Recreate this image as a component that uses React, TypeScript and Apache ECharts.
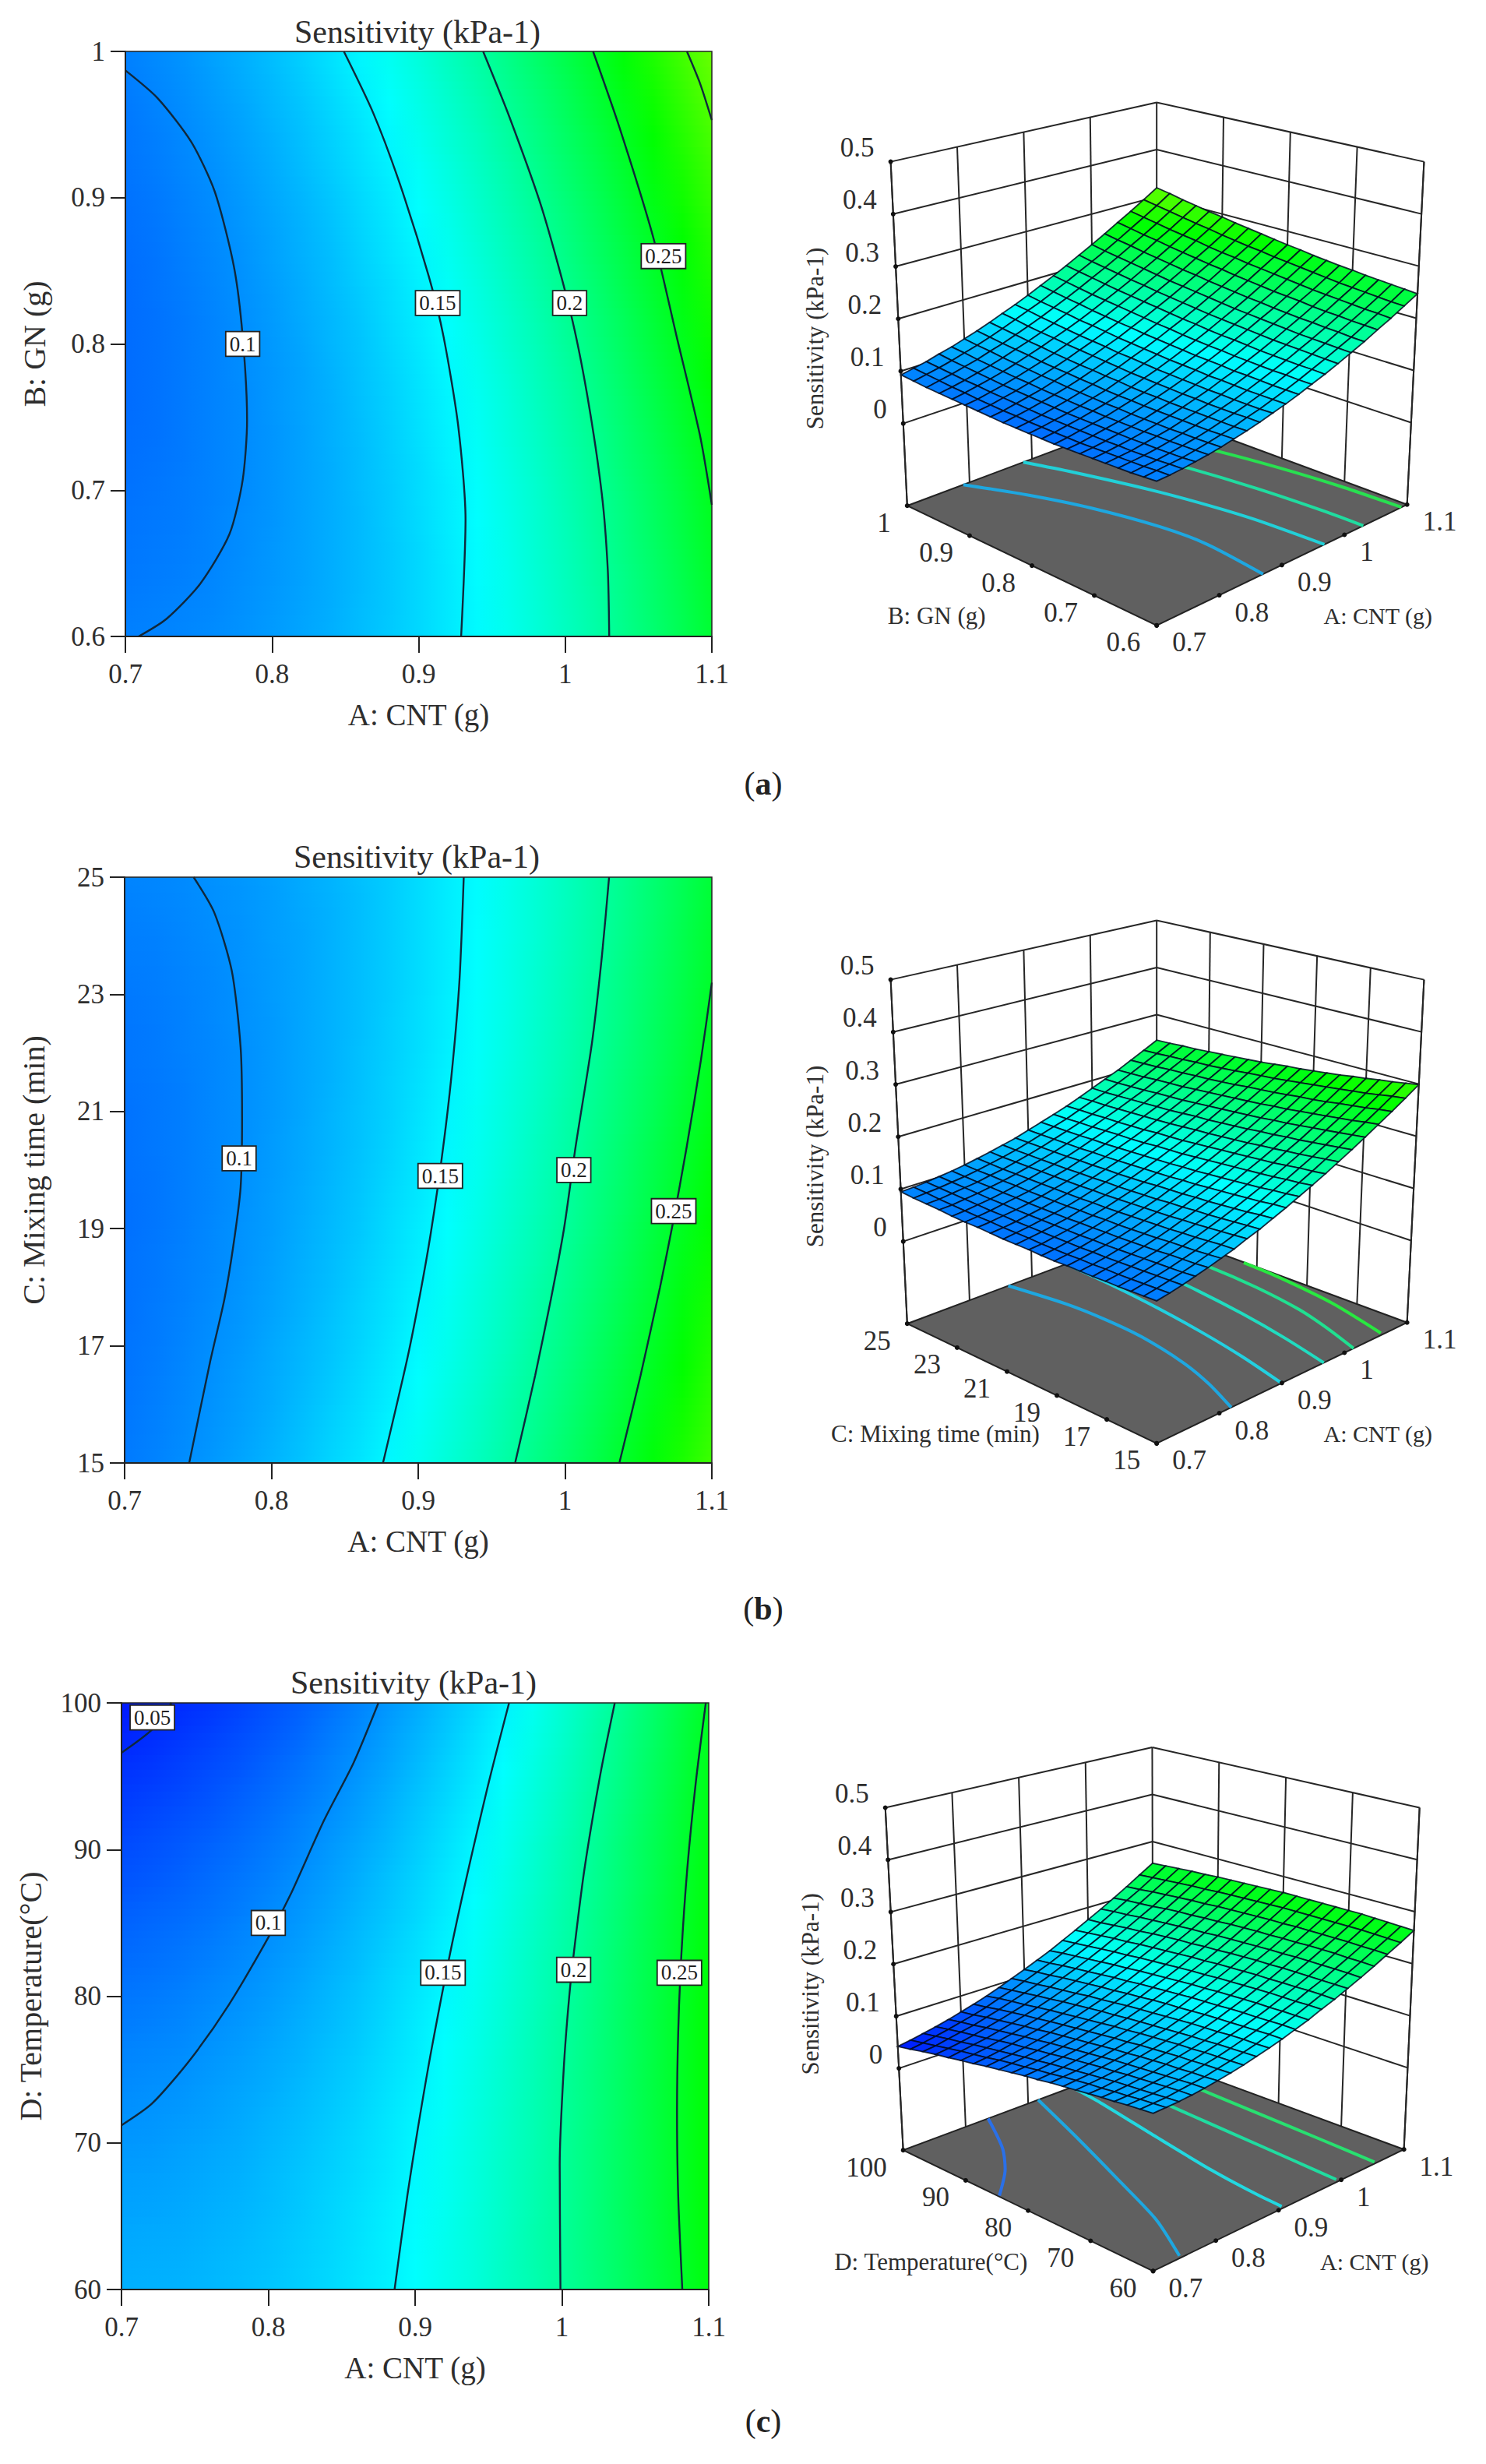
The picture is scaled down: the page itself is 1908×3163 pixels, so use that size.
import React, { useEffect, useRef } from "react";
import * as echarts from "echarts";

const FONT = "Liberation Serif";
const INK = "#2e2e2e";
const SENS_TITLE = "Sensitivity (kPa-1)";

// ---- axes ----
const ticksCNT = [0.7, 0.8, 0.9, 1, 1.1];
const ticksGN = [0.6, 0.7, 0.8, 0.9, 1];
const ticksTime = [15, 17, 19, 21, 23, 25];
const ticksTemp = [60, 70, 80, 90, 100];
const ticksSens = [0, 0.1, 0.2, 0.3, 0.4, 0.5];

// ---- surfaces, in 0.001 kPa-1: rows go up the second factor, columns along A: CNT ----
const surfaceGN = [
[93,94,96,99,102,106,111,116,122,129,136,144,153,162,172,183,194,207,219,233,247],
[91,93,95,97,101,105,110,115,122,128,136,144,153,163,173,184,195,208,221,234,249],
[89,91,93,96,100,104,109,115,121,128,136,144,154,163,174,185,197,209,222,236,251],
[88,90,92,95,99,104,109,115,121,128,136,145,154,164,175,186,198,211,224,238,253],
[87,89,91,95,99,103,109,115,121,129,137,146,155,165,176,187,200,212,226,240,255],
[86,88,91,94,98,103,109,115,122,129,138,146,156,166,177,189,201,214,228,242,258],
[85,87,90,94,98,103,109,115,122,130,138,148,157,168,179,191,203,217,230,245,260],
[84,86,90,94,98,103,109,116,123,131,140,149,159,170,181,193,205,219,233,248,263],
[83,86,90,94,98,104,110,116,124,132,141,150,160,171,183,195,208,221,236,251,266],
[83,86,90,94,99,104,110,117,125,133,142,152,162,173,185,197,210,224,239,254,270],
[83,86,90,94,99,105,111,119,126,135,144,154,164,176,187,200,213,227,242,257,273],
[83,86,90,95,100,106,113,120,128,137,146,156,167,178,190,203,216,230,245,261,277],
[83,87,91,96,101,107,114,122,130,138,148,158,169,181,193,206,219,234,249,264,281],
[84,87,92,97,102,109,116,123,132,141,150,161,172,184,196,209,223,237,252,268,285],
[85,88,93,98,104,110,117,125,134,143,153,163,175,187,199,212,226,241,256,272,289],
[86,89,94,99,105,112,119,127,136,145,156,166,178,190,203,216,230,245,261,277,294],
[87,91,96,101,107,114,122,130,139,148,158,169,181,193,206,220,234,249,265,281,298],
[88,92,97,103,109,116,124,132,141,151,162,173,184,197,210,224,238,254,269,286,303],
[89,94,99,105,111,119,126,135,144,154,165,176,188,201,214,228,243,258,274,291,308],
[91,96,101,107,114,121,129,138,148,158,168,180,192,205,218,232,247,263,279,296,314],
[93,98,103,110,116,124,132,141,151,161,172,184,196,209,223,237,252,268,284,301,319],
];
const surfaceTime = [
[90,94,99,105,111,118,125,134,142,152,162,173,184,196,209,222,236,251,266,282,299],
[89,93,98,103,109,116,124,132,140,150,160,170,181,193,206,219,233,248,263,279,295],
[88,92,97,102,108,114,122,130,138,147,157,168,179,191,203,216,230,244,259,275,291],
[87,91,96,101,107,113,120,128,136,145,155,165,176,188,200,213,227,241,256,271,288],
[87,90,95,100,105,112,119,126,134,143,153,163,174,185,198,210,224,238,253,268,284],
[86,90,94,99,104,110,117,125,133,141,151,161,172,183,195,208,221,235,249,265,281],
[86,89,93,98,103,109,116,123,131,140,149,159,170,181,193,205,218,232,246,262,277],
[86,89,93,97,102,108,115,122,130,138,147,157,168,179,190,203,216,229,244,259,274],
[85,88,92,97,102,107,114,121,128,137,146,155,166,177,188,200,213,227,241,256,271],
[85,88,92,96,101,107,113,120,127,136,144,154,164,175,186,198,211,224,238,253,268],
[86,88,92,96,101,106,112,119,126,134,143,152,162,173,184,196,209,222,236,250,266],
[86,89,92,96,100,106,112,118,125,133,142,151,161,171,183,194,207,220,234,248,263],
[86,89,92,96,100,105,111,118,125,132,141,150,160,170,181,193,205,218,231,246,260],
[87,89,92,96,100,105,111,117,124,132,140,149,158,169,179,191,203,216,229,243,258],
[88,90,93,96,100,105,111,117,124,131,139,148,157,167,178,189,201,214,227,241,256],
[88,90,93,97,101,105,111,117,123,131,139,147,157,166,177,188,200,212,226,239,254],
[89,91,94,97,101,106,111,117,123,130,138,147,156,165,176,187,199,211,224,238,252],
[91,92,95,98,102,106,111,117,123,130,138,146,155,165,175,186,197,210,223,236,250],
[92,93,96,99,102,107,111,117,123,130,138,146,155,164,174,185,196,208,221,235,249],
[93,95,97,100,103,107,112,117,123,130,138,146,154,164,174,184,195,207,220,233,247],
[95,96,98,101,104,108,113,118,124,130,138,146,154,163,173,184,195,206,219,232,246],
];
const surfaceTemp = [
[116,117,118,120,123,127,131,136,142,148,155,163,171,181,190,201,212,224,237,250,264],
[114,115,116,119,122,125,130,135,141,147,155,163,171,181,191,201,213,225,238,251,265],
[112,113,114,117,120,124,129,134,140,147,154,162,171,180,191,201,213,225,238,252,266],
[109,110,112,115,118,122,127,133,139,146,153,161,170,180,190,201,213,226,239,253,267],
[107,108,110,113,116,121,126,131,137,144,152,161,170,180,190,201,213,226,239,253,268],
[104,105,108,111,114,119,124,130,136,143,151,160,169,179,189,201,213,226,239,253,268],
[101,103,105,108,112,117,122,128,134,142,150,158,168,178,189,200,212,225,239,253,268],
[98,100,102,106,110,114,120,126,132,140,148,157,167,177,188,200,212,225,239,253,268],
[95,97,99,103,107,112,117,124,130,138,146,156,165,176,187,199,211,224,238,253,268],
[91,93,96,100,104,109,115,121,128,136,145,154,164,174,186,198,210,224,238,253,268],
[88,90,93,97,101,106,112,119,126,134,143,152,162,173,184,196,209,223,237,252,268],
[84,86,89,93,98,103,109,116,123,132,140,150,160,171,183,195,208,222,236,251,267],
[80,83,86,90,95,100,106,113,121,129,138,148,158,169,181,193,206,220,235,250,266],
[76,79,82,86,91,97,103,110,118,126,135,145,156,167,179,192,205,219,234,249,265],
[71,74,78,83,88,93,100,107,115,124,133,143,153,165,177,190,203,217,232,248,264],
[67,70,74,79,84,90,96,104,112,120,130,140,151,162,175,188,201,216,231,246,263],
[62,66,70,74,80,86,93,100,108,117,127,137,148,160,172,185,199,214,229,245,261],
[58,61,65,70,76,82,89,96,105,114,124,134,145,157,170,183,197,211,227,243,260],
[53,56,61,66,71,78,85,93,101,110,120,131,142,154,167,180,194,209,225,241,258],
[47,51,56,61,67,73,80,89,97,107,117,127,139,151,164,177,192,207,222,239,256],
[42,46,51,56,62,69,76,84,93,103,113,124,135,148,161,175,189,204,220,237,254],
];

// ---- contour lines of the flat plots: [A: CNT, second factor] ----
const levelsGN = [
[[0.7,0.987],[0.722,0.968],[0.745,0.938],[0.761,0.904],[0.774,0.853],[0.78,0.805],[0.783,0.748],[0.78,0.707],[0.771,0.67],[0.751,0.636],[0.728,0.612],[0.709,0.6]],
[[0.849,1],[0.869,0.958],[0.887,0.91],[0.907,0.846],[0.917,0.805],[0.927,0.744],[0.932,0.68],[0.929,0.6]],
[[0.944,1],[0.962,0.955],[0.984,0.893],[1.0035,0.822],[1.015,0.765],[1.025,0.697],[1.029,0.646],[1.03,0.6]],
[[1.019,1],[1.037,0.948],[1.06,0.873],[1.076,0.805],[1.092,0.737],[1.1,0.69]],
[[1.083,1],[1.092,0.978],[1.1,0.953]],
];
const levelsTime = [
[[0.747,25],[0.761,24.4],[0.773,23.4],[0.779,22.1],[0.78,20.9],[0.779,19.7],[0.774,18.7],[0.768,17.8],[0.758,16.7],[0.744,15]],
[[0.931,25],[0.928,23.2],[0.9226,21.6],[0.916,20.2],[0.9084,18.9],[0.9014,17.9],[0.8927,16.8],[0.876,15]],
[[1.03,25],[1.0253,23.7],[1.0185,22.2],[1.0072,20.4],[0.9993,19],[0.9904,17.8],[0.9797,16.5],[0.966,15]],
[[1.1,23.2],[1.0927,21.9],[1.0829,20.4],[1.0735,19.1],[1.0647,18],[1.0515,16.5],[1.037,15]],
];
const levelsTemp = [
[[0.7,96.6],[0.721,98.2],[0.734,100]],
[[0.7,71.2],[0.721,72.7],[0.747,75.7],[0.773,79.4],[0.8,84],[0.815,86.9],[0.838,92],[0.858,95.9],[0.875,100]],
[[0.964,100],[0.949,94.1],[0.9269,84.4],[0.9114,76.5],[0.9019,71],[0.8947,66.4],[0.886,60]],
[[1.036,100],[1.0263,95.2],[1.0154,88.7],[1.009,83.7],[1.005,80],[1.0012,75],[0.9985,68.5],[0.999,60]],
[[1.098,100],[1.0911,94.5],[1.0854,88.7],[1.0814,82.9],[1.0792,77.5],[1.0784,72.1],[1.0792,66.4],[1.082,60]],
];
const tagsGN = [["0.1",0.78,0.8],["0.15",0.913,0.828],["0.2",1.003,0.828],["0.25",1.067,0.86]];
const tagsTime = [["0.1",0.778,20.2],["0.15",0.915,19.9],["0.2",1.006,20],["0.25",1.074,19.3]];
const tagsTemp = [["0.05",0.721,99],["0.1",0.8,85],["0.15",0.919,81.6],["0.2",1.008,81.8],["0.25",1.08,81.6]];

// ---- contour lines on the floors of the 3D plots ----
const floorGN = [
[[0.79,1],[0.827,0.93],[0.854,0.86],[0.875,0.77],[0.88,0.7],[0.87,0.6]],
[[0.886,1],[0.908,0.943],[0.937,0.847],[0.953,0.77],[0.962,0.705],[0.968,0.6]],
[[0.985,0.98],[1.009,0.862],[1.022,0.762],[1.029,0.658],[1.03,0.6]],
[[1.04,0.98],[1.066,0.868],[1.079,0.784],[1.088,0.689],[1.091,0.6]],
];
const floorTime = [
[[0.862,25],[0.8755,23],[0.878,21.5],[0.875,20],[0.8609,18],[0.843,16.5],[0.819,15]],
[[0.9548,25],[0.95,23],[0.9421,21],[0.931,19],[0.917,17],[0.8995,15]],
[[1.018,25],[1.0142,23],[1.0072,21],[0.997,19],[0.9836,17],[0.967,15]],
[[1.0625,24],[1.0642,22],[1.059,20],[1.0476,18],[1.0326,16.5],[1.0145,15]],
[[1.099,21.5],[1.096,20.07],[1.084,17.61],[1.062,15.1]],
];
const floorTemp = [
[[0.836,100],[0.791,93.2],[0.751,88.8],[0.702,84.8]],
[[0.916,100],[0.875,89.8],[0.827,77.9],[0.789,68.4],[0.746,60.4]],
[[0.97,100],[0.962,94.6],[0.94,83.5],[0.921,72.8],[0.912,65],[0.909,60.4]],
[[1.02,100],[1.011,87.2],[1.006,78],[1.001,68.1],[0.997,60.5]],
[[1.075,100],[1.068,87.8],[1.065,80.6],[1.06,69],[1.056,60.3]],
];
const floorColorsGN = ["#1ea7e0", "#22d0d8", "#20dca0", "#28e050"];
const floorColorsTime = ["#1ea7e0", "#22d0e0", "#20dcc0", "#20e090", "#28e840"];
const floorColorsTemp = ["#2a70e8", "#1ea7e0", "#22d8e0", "#20dca0", "#28e070"];

// ---- colour ramp (value in 0.001 kPa-1) ----
const rampAt = [30, 155, 270, 390];
const rampRGB = [[0, 0, 255], [0, 255, 255], [0, 255, 0], [255, 255, 0]];
function ramp(v: number) {
  let k = 0;
  while (k < rampAt.length - 2 && v > rampAt[k + 1]) k++;
  const t = Math.max(0, Math.min(1, (v - rampAt[k]) / (rampAt[k + 1] - rampAt[k])));
  const c = rampRGB[k].map((a, n) => Math.round(a + (rampRGB[k + 1][n] - a) * t));
  return `rgb(${c[0]},${c[1]},${c[2]})`;
}

const fmt = (v: number) => String(+Number(v).toFixed(2));

// ---- flat panels ----
const flats = [
  { box: [161, 66, 753, 751], yName: "B: GN (g)", yTicks: ticksGN, table: surfaceGN, lines: levelsGN, tags: tagsGN, titleY: 41, titleX: 536 },
  { box: [160, 1126, 754, 752], yName: "C: Mixing time (min)", yTicks: ticksTime, table: surfaceTime, lines: levelsTime, tags: tagsTime, titleY: 1100, titleX: 535 },
  { box: [156, 2186, 754, 753], yName: "D: Temperature(°C)", yTicks: ticksTemp, table: surfaceTemp, lines: levelsTemp, tags: tagsTemp, titleY: 2160, titleX: 531 },
];

// ---- 3D panels: outline of the box as seen on the page ----
const SX = 1.742, SY = 2.063;
const boxes = [
  { ox: 980, oy: 100, F: [880,1450], R: [1440,1130], L: [322,1133], B: [880,885], TF: [880,446], TR: [1478,222], TL: [285,222], TB: [880,65],
    bTicks: ticksGN, bName: "B: GN (g)", bNameAt: [388,1425], aNameAt: [1375,1425], sensAt: [115,690], table: surfaceGN, floor: floorGN, colors: floorColorsGN },
  { ox: 980, oy: 1150, F: [880,1450], R: [1440,1130], L: [322,1133], B: [880,885], TF: [880,446], TR: [1478,222], TL: [285,222], TB: [880,65],
    bTicks: ticksTime, bName: "C: Mixing time (min)", bNameAt: [385,1425], aNameAt: [1375,1425], sensAt: [115,690], table: surfaceTime, floor: floorTime, colors: floorColorsTime },
  { ox: 980, oy: 2210, F: [872,1455], R: [1433,1133], L: [313,1135], B: [872,888], TF: [872,450], TR: [1468,228], TL: [273,228], TB: [870,68],
    bTicks: ticksTemp, bName: "D: Temperature(°C)", bNameAt: [375,1430], aNameAt: [1367,1430], sensAt: [105,695], table: surfaceTemp, floor: floorTemp, colors: floorColorsTemp },
];
const Z_FLOOR = -0.157, Z_TOP = 0.5;

function projector(b: any) {
  const bil = (f: number[], r: number[], l: number[], k: number[], u: number, v: number, n: number) =>
    f[n] * (1 - u) * (1 - v) + r[n] * u * (1 - v) + l[n] * (1 - u) * v + k[n] * u * v;
  return (u: number, v: number, z: number) => {
    const w = (z - Z_FLOOR) / (Z_TOP - Z_FLOOR);
    const x = bil(b.F, b.R, b.L, b.B, u, v, 0) * (1 - w) + bil(b.TF, b.TR, b.TL, b.TB, u, v, 0) * w;
    const y = bil(b.F, b.R, b.L, b.B, u, v, 1) * (1 - w) + bil(b.TF, b.TR, b.TL, b.TB, u, v, 1) * w;
    return [b.ox + x / SX, b.oy + y / SY];
  };
}

function text(str: string, x: number, y: number, size: number, align = "center", rotation = 0) {
  return {
    type: "text", x, y, rotation, silent: true, z: 50,
    style: { text: str, fill: INK, font: `${size}px "${FONT}"`, textAlign: align, textVerticalAlign: "middle", align, verticalAlign: "middle" },
  };
}
function panelTag(letter: string, x: number, y: number) {
  return {
    type: "text", x, y, silent: true, z: 50,
    style: {
      text: `{n|(}{b|${letter}}{n|)}`, textAlign: "center", textVerticalAlign: "middle", align: "center", verticalAlign: "middle",
      rich: {
        n: { fontFamily: FONT, fontSize: 42, fill: "#222", color: "#222" },
        b: { fontFamily: FONT, fontSize: 42, fontWeight: "bold", fill: "#222", color: "#222" },
      },
    },
  };
}

function buildOption() {
  const grid: any[] = [], xAxis: any[] = [], yAxis: any[] = [], series: any[] = [], graphic: any[] = [];

  flats.forEach((p, k) => {
    grid.push({ left: p.box[0], top: p.box[1], width: p.box[2], height: p.box[3], show: true, borderColor: "#222", borderWidth: 1.5, backgroundColor: "transparent", z: 8 });
    const axisBase = {
      type: "value", gridIndex: k, splitLine: { show: false }, z: 9,
      axisLine: { show: true, onZero: false, lineStyle: { color: "#222", width: 2 } },
      nameLocation: "middle",
      nameTextStyle: { fontFamily: FONT, fontSize: 40, color: INK },
    };
    xAxis.push({
      ...axisBase, min: 0.7, max: 1.1, name: "A: CNT (g)", nameGap: 81,
      nameTextStyle: { fontFamily: FONT, fontSize: 39, color: INK },
      axisTick: { show: true, length: 21, customValues: ticksCNT, lineStyle: { color: "#222", width: 2 } },
      axisLabel: { customValues: ticksCNT, formatter: fmt, margin: 31, fontFamily: FONT, fontSize: 35, color: INK, hideOverlap: false, showMinLabel: true, showMaxLabel: true },
    });
    yAxis.push({
      ...axisBase, min: p.yTicks[0], max: p.yTicks[p.yTicks.length - 1], name: p.yName, nameGap: 97,
      axisTick: { show: true, length: 19, customValues: p.yTicks, lineStyle: { color: "#222", width: 2 } },
      axisLabel: { customValues: p.yTicks, formatter: fmt, margin: 26, padding: [0, 0, 10, 0], fontFamily: FONT, fontSize: 35, color: INK, showMinLabel: true, showMaxLabel: true },
    });
    graphic.push(text(SENS_TITLE, p.titleX, p.titleY, 42));

    const rows = p.table;
    const yMin = p.yTicks[0], yMax = p.yTicks[p.yTicks.length - 1];
    const SUB = 4;
    const strips: number[][] = [];
    for (let j = 0; j < rows.length - 1; j++) for (let s = 0; s < SUB; s++) {
      const y0 = yMin + ((j + s / SUB) / (rows.length - 1)) * (yMax - yMin);
      const y1 = yMin + ((j + (s + 1) / SUB) / (rows.length - 1)) * (yMax - yMin);
      strips.push([0.7, y0, y1, j, (s + 0.5) / SUB]);
    }
    series.push({
      type: "custom", xAxisIndex: k, yAxisIndex: k, z: 1, silent: true, clip: true,
      data: strips, encode: { x: 0, y: 1 },
      renderItem: (_: any, api: any) => {
        const lo = api.coord([0.7, api.value(1)]);
        const hi = api.coord([1.1, api.value(2)]);
        const j = api.value(3), t = api.value(4);
        const n = rows[j].length;
        const stops = rows[j].map((a: number, i: number) => ({ offset: i / (n - 1), color: ramp(a + (rows[j + 1][i] - a) * t) }));
        return {
          type: "rect",
          shape: { x: lo[0], y: hi[1], width: hi[0] - lo[0], height: lo[1] - hi[1] + 1 },
          style: { fill: new echarts.graphic.LinearGradient(0, 0, 1, 0, stops) },
        };
      },
    });
    p.lines.forEach((pts) => {
      series.push({
        type: "line", xAxisIndex: k, yAxisIndex: k, z: 3, silent: true, data: pts, smooth: 0.25, symbol: "none",
        lineStyle: { color: "#10283c", width: 2.4 },
      });
    });
    series.push({
      type: "scatter", xAxisIndex: k, yAxisIndex: k, z: 4, silent: true, symbolSize: 1, itemStyle: { color: "transparent", opacity: 1 },
      data: p.tags.map((t) => ({ name: t[0], value: [t[1], t[2]] })),
      label: {
        show: true, position: "inside", formatter: "{b}", fontFamily: FONT, fontSize: 27, color: "#222", opacity: 1,
        backgroundColor: "#fff", borderColor: "#222", borderWidth: 1.8, padding: [2, 4, 1, 4],
      },
    });
  });

  boxes.forEach((b) => {
    const P = projector(b);
    const px = (c: number[]) => [b.ox + c[0] / SX, b.oy + c[1] / SY];
    const bMin = b.bTicks[0], bMax = b.bTicks[b.bTicks.length - 1];
    const U = (a: number) => (a - 0.7) / 0.4;
    const V = (t: number) => (t - bMin) / (bMax - bMin);
    const seg = (p: number[], q: number[], lw = 2, c = "#262626") => ({
      type: "line", shape: { x1: p[0], y1: p[1], x2: q[0], y2: q[1] }, style: { stroke: c, lineWidth: lw },
    });

    series.push({
      type: "custom", coordinateSystem: "none", z: 2, silent: true, data: [[0]],
      renderItem: () => {
        const ch: any[] = [];
        ticksSens.forEach((z) => {
          ch.push(seg(P(0, 1, z), P(1, 1, z)));
          ch.push(seg(P(1, 1, z), P(1, 0, z)));
        });
        ticksCNT.slice(0, -1).forEach((a) => ch.push(seg(P(U(a), 1, Z_FLOOR), P(U(a), 1, Z_TOP))));
        b.bTicks.slice(0, -1).forEach((t) => ch.push(seg(P(1, V(t), Z_FLOOR), P(1, V(t), Z_TOP))));
        ch.push(seg(P(1, 1, Z_FLOOR), P(1, 1, Z_TOP)));
        ch.push({
          type: "polygon",
          shape: { points: [P(0, 0, Z_FLOOR), P(1, 0, Z_FLOOR), P(1, 1, Z_FLOOR), P(0, 1, Z_FLOOR)] },
          style: { fill: "#606060", stroke: "#222", lineWidth: 2 },
        });
        return { type: "group", children: ch };
      },
    });

    series.push({
      type: "custom", coordinateSystem: "none", z: 3, silent: true, data: b.floor.map((_, n) => [n]),
      renderItem: (_: any, api: any) => {
        const n = api.value(0);
        return {
          type: "polyline",
          shape: { points: b.floor[n].map((q) => P(U(q[0]), V(q[1]), Z_FLOOR)), smooth: 0.25 },
          style: { stroke: b.colors[n], lineWidth: 4, fill: "none" },
        };
      },
    });

    const rows = b.table;
    const n = rows.length - 1;
    const cells: number[][] = [];
    for (let i = 0; i < n; i++) for (let j = 0; j < n; j++) cells.push([i, j]);
    cells.sort((p, q) => q[0] + q[1] - (p[0] + p[1]));
    series.push({
      type: "custom", coordinateSystem: "none", z: 4, silent: true, data: cells,
      renderItem: (_: any, api: any) => {
        const i = api.value(0), j = api.value(1);
        const c = [rows[j][i], rows[j][i + 1], rows[j + 1][i + 1], rows[j + 1][i]];
        return {
          type: "polygon",
          shape: { points: [
            P(i / n, j / n, c[0] / 1000), P((i + 1) / n, j / n, c[1] / 1000),
            P((i + 1) / n, (j + 1) / n, c[2] / 1000), P(i / n, (j + 1) / n, c[3] / 1000),
          ] },
          style: { fill: ramp((c[0] + c[1] + c[2] + c[3]) / 4), stroke: "rgba(0,10,30,0.85)", lineWidth: 1.8 },
        };
      },
    });

    series.push({
      type: "custom", coordinateSystem: "none", z: 5, silent: true, data: [[0]],
      renderItem: () => {
        const dot = (p: number[]) => ({ type: "circle", shape: { cx: p[0], cy: p[1], r: 3 }, style: { fill: "#111" } });
        const ch: any[] = [];
        ch.push(seg(P(0, 1, Z_FLOOR), P(0, 1, Z_TOP)));
        ch.push(seg(P(1, 0, Z_FLOOR), P(1, 0, Z_TOP)));
        ticksSens.forEach((z) => ch.push(dot(P(0, 1, z))));
        ticksCNT.forEach((a) => ch.push(dot(P(U(a), 0, Z_FLOOR))));
        b.bTicks.forEach((t) => ch.push(dot(P(0, V(t), Z_FLOOR))));
        return { type: "group", silent: true, children: ch };
      },
    });

    ticksSens.forEach((z) => {
      const p = P(0, 1, z);
      graphic.push(text(fmt(z), p[0] - 21, p[1] - 18, 35, "right"));
    });
    ticksCNT.forEach((a) => {
      const p = P(U(a), 0, Z_FLOOR);
      graphic.push(text(fmt(a), p[0] + 20, p[1] + 22, 35, "left"));
    });
    b.bTicks.forEach((t) => {
      const p = P(0, V(t), Z_FLOOR);
      graphic.push(text(fmt(t), p[0] - 21, p[1] + 22, 35, "right"));
    });
    const an = px(b.aNameAt), bn = px(b.bNameAt), sn = px(b.sensAt);
    graphic.push(text("A: CNT (g)", an[0], an[1], 30));
    graphic.push(text(b.bName, bn[0], bn[1], 31));
    graphic.push(text(SENS_TITLE, sn[0], sn[1], 31, "center", Math.PI / 2));
  });

  graphic.push(panelTag("a", 980, 1006));
  graphic.push(panelTag("b", 980, 2065));
  graphic.push(panelTag("c", 980, 3108));

  return { animation: false, backgroundColor: "#fff", grid, xAxis, yAxis, series, graphic };
}

export default function App() {
  const ref = useRef<HTMLDivElement>(null);
  useEffect(() => {
    document.body.style.margin = "0";
    const chart = echarts.init(ref.current!, undefined, { renderer: "svg" });
    chart.setOption(buildOption() as any);
    return () => chart.dispose();
  }, []);
  return <div ref={ref} style={{ position: "absolute", left: 0, top: 0, width: 1908, height: 3163 }} />;
}
